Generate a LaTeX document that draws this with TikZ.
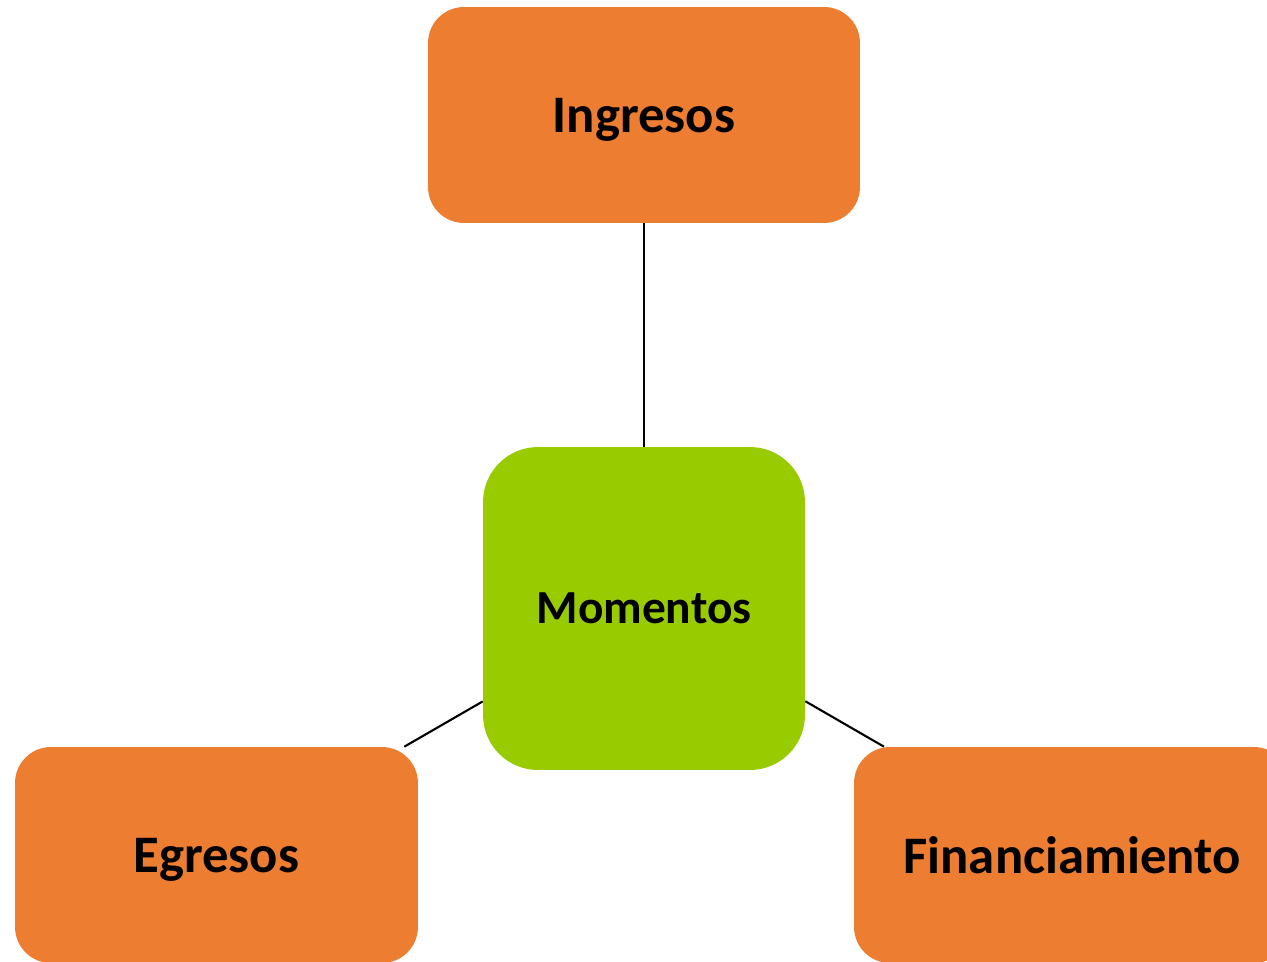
\documentclass[tikz,border=0pt]{standalone}
\usepackage{fontspec}
\setmainfont{Carlito}
\definecolor{naranja}{HTML}{ED7D31}
\definecolor{verde}{HTML}{99CC00}
\begin{document}
\begin{tikzpicture}[x=0.02cm,y=-0.02cm,
  caja/.style={rectangle,fill=naranja,rounded corners=0.72cm,inner sep=0pt,
    minimum height=4.32cm,text depth=0pt,font=\fontsize{30}{36}\selectfont\bfseries},
  centro/.style={rectangle,fill=verde,rounded corners=1.1cm,inner sep=0pt,
    minimum width=6.44cm,minimum height=6.46cm,font=\fontsize{27}{32}\selectfont\bfseries}]
\useasboundingbox (0,0) rectangle (1267,961);
\path
(644,608.5) node[centro] (M) {Momentos}
(644,115)   node[caja,minimum width=8.64cm] (I) {Ingresos}
(216.5,855) node[caja,minimum width=8.06cm] (E) {Egresos}
(1072,855)  node[caja,minimum width=8.72cm] (F) {Financiamiento};

\draw[line width=1.2pt] (I)--(M);
\draw[line width=1.2pt] (M)--(E);
\draw[line width=1.2pt] (M)--(F);
\end{tikzpicture}
\end{document}
